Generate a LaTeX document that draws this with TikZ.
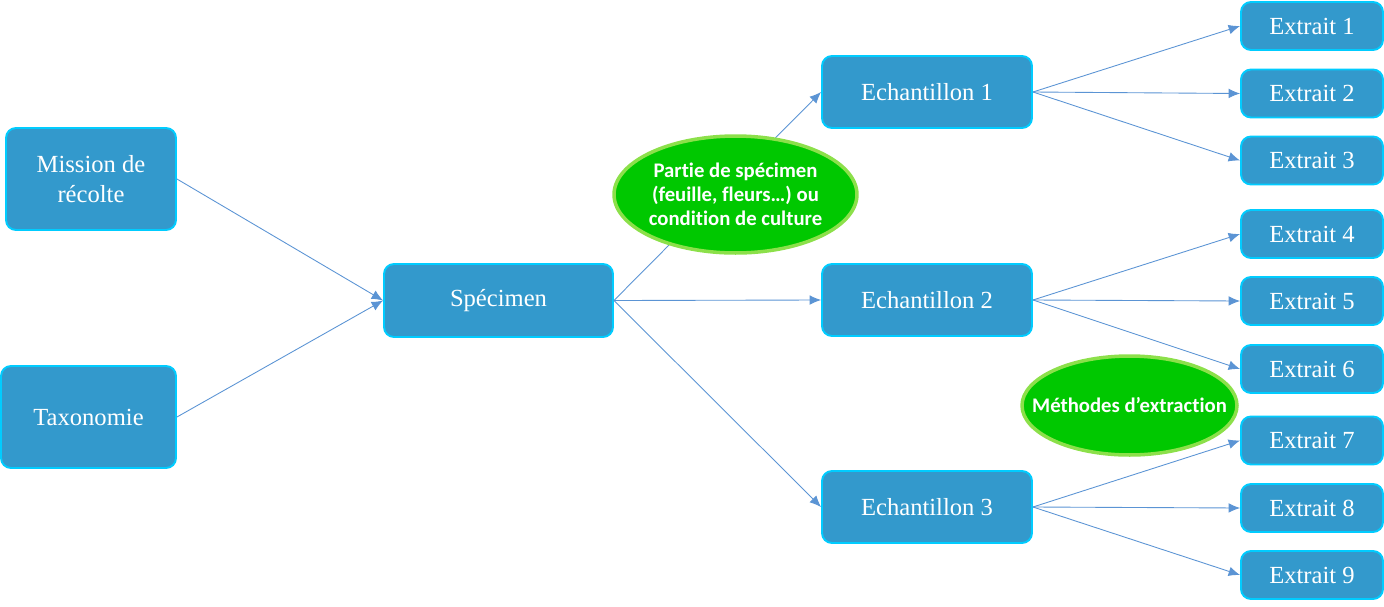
\documentclass[tikz,border=0pt]{standalone}
\usepackage{fontspec}
\setmainfont{Liberation Serif}
\newfontfamily\calibri[Ligatures={NoCommon,NoRequired}]{Carlito}
\usetikzlibrary{shapes.geometric,arrows.meta}

\definecolor{boxblue}{RGB}{51,153,204}
\definecolor{boxline}{RGB}{0,204,255}
\definecolor{linkblue}{RGB}{91,148,212}
\definecolor{ovalgreen}{RGB}{0,200,0}
\definecolor{ovalline}{RGB}{140,224,74}

\tikzset{
	bloc/.style={draw=boxline,line width=1.1pt,fill=boxblue,rounded corners=0.2cm,
		text=white,align=center,inner sep=0pt,font=\fontsize{14}{17}\selectfont},
	oval/.style={ellipse,draw=ovalline,line width=2pt,fill=ovalgreen,inner sep=0pt},
	ovaltext/.style={text=white,align=center,inner sep=0pt,
		font=\calibri\bfseries\fontsize{11.8}{13.6}\selectfont},
	link/.style={draw=linkblue,line width=0.5pt,-{Latex[length=6.5pt,width=5.5pt]}}
}

\begin{document}
\begin{tikzpicture}[x=0.02cm,y=-0.02cm]
		\useasboundingbox (0,0) rectangle (1384,606);

		% origine
		\node[bloc,minimum width=3.4cm,minimum height=2.04cm] (mission) at (91,179) {Mission de\\récolte};
		\node[bloc,minimum width=3.5cm,minimum height=2.04cm] (taxo) at (88.5,417) {Taxonomie};
		\node[bloc,minimum width=4.58cm,minimum height=1.46cm] (specimen) at (498.5,300.5) {Spécimen};

		% echantillons
		\node[bloc,minimum width=4.2cm,minimum height=1.44cm] (ech1) at (927,92) {Echantillon 1};
		\node[bloc,minimum width=4.2cm,minimum height=1.44cm] (ech2) at (927,300) {Echantillon 2};
		\node[bloc,minimum width=4.2cm,minimum height=1.44cm] (ech3) at (927,507) {Echantillon 3};

		% extraits
		\node[bloc,minimum width=2.84cm,minimum height=0.96cm] (ext1) at (1312,26) {Extrait 1};
		\node[bloc,minimum width=2.84cm,minimum height=0.96cm] (ext2) at (1312,93.5) {Extrait 2};
		\node[bloc,minimum width=2.84cm,minimum height=0.96cm] (ext3) at (1312,160.5) {Extrait 3};
		\node[bloc,minimum width=2.84cm,minimum height=0.96cm] (ext4) at (1312,234) {Extrait 4};
		\node[bloc,minimum width=2.84cm,minimum height=0.96cm] (ext5) at (1312,301) {Extrait 5};
		\node[bloc,minimum width=2.84cm,minimum height=0.96cm] (ext6) at (1312,369) {Extrait 6};
		\node[bloc,minimum width=2.84cm,minimum height=0.96cm] (ext7) at (1312,440.5) {Extrait 7};
		\node[bloc,minimum width=2.84cm,minimum height=0.96cm] (ext8) at (1312,508) {Extrait 8};
		\node[bloc,minimum width=2.84cm,minimum height=0.96cm] (ext9) at (1312,575) {Extrait 9};

		\draw[link] (mission.east) -- (specimen.west);
		\draw[link] (taxo.east) -- (specimen.west);
		\draw[link] (specimen.east) -- (ech1.west);
		\draw[link] (specimen.east) -- (ech2.west);
		\draw[link] (specimen.east) -- (ech3.west);

		\draw[link] (ech1.east) -- (ext1.west);
		\draw[link] (ech1.east) -- (ext2.west);
		\draw[link] (ech1.east) -- (ext3.west);
		\draw[link] (ech2.east) -- (ext4.west);
		\draw[link] (ech2.east) -- (ext5.west);
		\draw[link] (ech2.east) -- (ext6.west);
		\draw[link] (ech3.east) -- (ext7.west);
		\draw[link] (ech3.east) -- (ext8.west);
		\draw[link] (ech3.east) -- (ext9.west);

		% criteres
		\node[oval,minimum width=4.86cm,minimum height=2.34cm,
			label={[ovaltext]center:Partie de spécimen\\(feuille, fleurs…) ou\\condition de culture}] (partie) at (735.5,194.5) {};
		\node[oval,minimum width=4.3cm,minimum height=1.98cm,
			label={[ovaltext]center:Méthodes d’extraction}] (methodes) at (1129.5,405.5) {};
	\end{tikzpicture}
\end{document}
